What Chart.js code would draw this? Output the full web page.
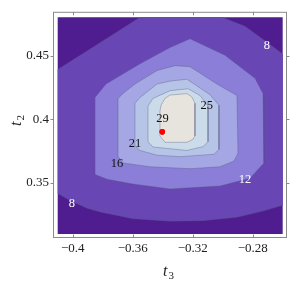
<!DOCTYPE html>
<html>
<head>
<meta charset="utf-8">
<script src="https://cdn.jsdelivr.net/npm/chart.js@4.4.0/dist/chart.umd.min.js"></script>
<style>
html,body{margin:0;padding:0;background:#fff;}
#wrap{width:291px;height:283px;position:relative;}
</style>
</head>
<body>
<div id="wrap"><canvas id="c" width="291" height="283"></canvas></div>
<script>
// ---- data ----
const xTicks = [-0.4, -0.36, -0.32, -0.28];
const yTicks = [0.35, 0.4, 0.45];
const domainX = [-0.41, -0.26];
const domainY = [0.31, 0.48];
const levels = [8, 12, 16, 21, 25, 29];

// contour boundaries (region >= level), [t3, t2]
const c8 = [[-0.41,0.4390],[-0.3551,0.48],[-0.3005,0.48],[-0.2851,0.4730],[-0.2718,0.4616],[-0.26,0.4511],
  [-0.26,0.3325],[-0.2731,0.3279],[-0.2905,0.3230],[-0.3131,0.3204],[-0.3351,0.3200],[-0.3598,0.3219],
  [-0.3818,0.3272],[-0.3905,0.3302],[-0.4018,0.3363],[-0.41,0.3418]];
const c12 = [[-0.3851,0.4171],[-0.3778,0.4276],[-0.3551,0.4435],[-0.3351,0.4563],[-0.3218,0.4631],[-0.2985,0.4503],
  [-0.2785,0.4322],[-0.2731,0.4201],[-0.2725,0.3657],[-0.2818,0.3536],[-0.3018,0.3476],[-0.3351,0.3453],
  [-0.3598,0.3491],[-0.3771,0.3529],[-0.3851,0.3566]];
const c16 = [[-0.3698,0.4163],[-0.3665,0.4201],[-0.3585,0.4276],[-0.3438,0.4382],[-0.3318,0.4420],[-0.3218,0.4412],
  [-0.3038,0.4276],[-0.2905,0.4186],[-0.2898,0.3733],[-0.2925,0.3672],[-0.3018,0.3627],[-0.3218,0.3612],
  [-0.3485,0.3627],[-0.3665,0.3657],[-0.3698,0.3710]];
const c21 = [[-0.3585,0.4125],[-0.3551,0.4171],[-0.3438,0.4276],[-0.3351,0.4299],[-0.3238,0.4314],[-0.3171,0.4261],
  [-0.3085,0.4193],[-0.3025,0.4110],[-0.3025,0.3763],[-0.3058,0.3725],[-0.3285,0.3706],[-0.3438,0.3718],
  [-0.3551,0.3755],[-0.3585,0.3793]];
const c25 = [[-0.3498,0.4103],[-0.3465,0.4163],[-0.3351,0.4224],[-0.3231,0.4239],[-0.3151,0.4186],[-0.3098,0.4103],
  [-0.3098,0.3823],[-0.3131,0.3785],[-0.3238,0.3755],[-0.3465,0.3782],[-0.3498,0.3823]];
const c29 = [[-0.3411,0.4110],[-0.3385,0.4163],[-0.3351,0.4190],[-0.3238,0.4201],[-0.3205,0.4174],[-0.3185,0.4125],
  [-0.3185,0.3869],[-0.3198,0.3842],[-0.3238,0.3819],[-0.3385,0.3819],[-0.3418,0.3869],[-0.3418,0.4065]];
const bestPoint = [-0.3403, 0.3901];

// contour labels
const labelTexts = ['8', '8', '12', '16', '21', '25', '29'];
const labelX = [-0.2705, -0.4005, -0.2851, -0.3704, -0.3585, -0.3107, -0.3401];
const labelY = [0.4579, 0.3340, 0.3532, 0.3653, 0.3808, 0.4110, 0.4008];
const labelColors = ['#ffffff', '#ffffff', '#ffffff', '#111', '#111', '#111', '#111'];

const bandColors = ['#4f1d8f', '#6846b4', '#8a7ed8', '#a4a7e3', '#b6c4e8', '#cbdbea', '#e6e4dc'];

// ---- build ----
function toPts(arr) {
  const p = arr.map(a => ({x: a[0], y: a[1]}));
  p.push({x: arr[0][0], y: arr[0][1]});
  return p;
}
function sameEdge(a, b) {
  const e = 1e-6;
  return (Math.abs(a.x - b.x) < e && (Math.abs(a.x - domainX[0]) < e || Math.abs(a.x - domainX[1]) < e)) ||
         (Math.abs(a.y - b.y) < e && (Math.abs(a.y - domainY[0]) < e || Math.abs(a.y - domainY[1]) < e));
}
function polyDataset(arr, color, withLine) {
  const pts = toPts(arr);
  return {
    data: pts,
    showLine: true,
    fill: false,
    polyFill: color,
    backgroundColor: color,
    borderColor: withLine ? 'rgba(85,85,120,0.45)' : 'rgba(0,0,0,0)',
    borderWidth: withLine ? 0.8 : 0,
    pointRadius: 0,
    tension: 0,
    segment: {
      borderColor: ctx => {
        const a = pts[ctx.p0DataIndex], b = pts[ctx.p1DataIndex];
        return (a && b && sameEdge(a, b)) ? 'rgba(0,0,0,0)' : undefined;
      }
    }
  };
}
const domainPoly = [[domainX[0], domainY[0]], [domainX[1], domainY[0]], [domainX[1], domainY[1]], [domainX[0], domainY[1]]];

const datasets = [
  {data: [{x: bestPoint[0], y: bestPoint[1]}], pointRadius: 2.8, pointBackgroundColor: '#ff0000', pointBorderWidth: 0, showLine: false},
  polyDataset(c29, bandColors[6], true),
  polyDataset(c25, bandColors[5], true),
  polyDataset(c21, bandColors[4], true),
  polyDataset(c16, bandColors[3], true),
  polyDataset(c12, bandColors[2], true),
  polyDataset(c8, bandColors[1], true),
  polyDataset(domainPoly, bandColors[0], false)
];

const SERIF = '"Liberation Serif", "DejaVu Serif", serif';
const fmt = v => (v < 0 ? '\u2212' : '') + String(Math.abs(Math.round(v * 1000) / 1000));

// fills each polygon dataset from the points placed by the library's scales
const polyFill = {
  id: 'polyFill',
  beforeDatasetDraw(chart, args) {
    const ds = chart.data.datasets[args.index];
    if (!ds.polyFill) return;
    const ctx = chart.ctx;
    const pts = args.meta.data;
    ctx.save();
    ctx.beginPath();
    pts.forEach((p, i) => i ? ctx.lineTo(p.x, p.y) : ctx.moveTo(p.x, p.y));
    ctx.closePath();
    ctx.fillStyle = ds.polyFill;
    ctx.fill();
    ctx.restore();
  }
};

const decor = {
  id: 'decor',
  afterDatasetsDraw(chart) {
    const {ctx, chartArea: a, scales: {x, y}} = chart;
    ctx.save();
    ctx.font = '12.5px ' + SERIF;
    ctx.textAlign = 'center';
    ctx.textBaseline = 'middle';
    for (let i = 0; i < labelTexts.length; i++) {
      ctx.fillStyle = labelColors[i];
      ctx.fillText(labelTexts[i], x.getPixelForValue(labelX[i]), y.getPixelForValue(labelY[i]) + 0.5);
    }
    ctx.fillStyle = '#ff0000';
    ctx.beginPath();
    ctx.arc(x.getPixelForValue(bestPoint[0]), y.getPixelForValue(bestPoint[1]), 2.8, 0, Math.PI * 2);
    ctx.fill();
    ctx.strokeStyle = '#8a8a8a';
    ctx.lineWidth = 1;
    ctx.strokeRect(a.left + 0.5, a.top + 0.5, a.right - a.left - 1, a.bottom - a.top - 1);
    ctx.beginPath();
    xTicks.forEach(v => {
      const px = Math.round(x.getPixelForValue(v)) + 0.5;
      ctx.moveTo(px, a.bottom); ctx.lineTo(px, a.bottom - 3.5);
      ctx.moveTo(px, a.top); ctx.lineTo(px, a.top + 3.5);
    });
    yTicks.forEach(v => {
      const py = Math.round(y.getPixelForValue(v)) + 0.5;
      ctx.moveTo(a.left + 1, py); ctx.lineTo(a.left - 2.5, py);
      ctx.moveTo(a.right - 1, py); ctx.lineTo(a.right + 2.5, py);
    });
    ctx.stroke();
    ctx.fillStyle = '#222';
    ctx.textAlign = 'left';
    ctx.textBaseline = 'alphabetic';
    ctx.font = 'italic 16px ' + SERIF;
    ctx.fillText('t', 163, 276);
    ctx.font = '11px ' + SERIF;
    ctx.fillText('3', 168.5, 279);
    ctx.translate(21, 126);
    ctx.rotate(-Math.PI / 2);
    ctx.font = 'italic 16px ' + SERIF;
    ctx.fillText('t', 0, 0);
    ctx.font = '11px ' + SERIF;
    ctx.fillText('2', 5.5, 3);
    ctx.restore();
  }
};

new Chart(document.getElementById('c'), {
  type: 'scatter',
  data: {datasets},
  options: {
    responsive: false,
    animation: false,
    devicePixelRatio: 1,
    layout: {padding: {top: 3, right: 4, left: 0, bottom: 0}},
    plugins: {legend: {display: false}, tooltip: {enabled: false}},
    scales: {
      x: {
        type: 'linear', min: -0.41313, max: -0.25713,
        grid: {display: false, drawTicks: false}, border: {display: false},
        afterBuildTicks: s => { s.ticks = xTicks.map(v => ({value: v})); },
        afterFit: s => { s.height = 45; },
        ticks: {callback: v => fmt(v), font: {family: SERIF, size: 13}, color: '#222', padding: 3, maxRotation: 0, autoSkip: false}
      },
      y: {
        type: 'linear', min: 0.3068, max: 0.4843,
        grid: {display: false, drawTicks: false}, border: {display: false},
        afterBuildTicks: s => { s.ticks = yTicks.map(v => ({value: v})); },
        afterFit: s => { s.width = 53; },
        ticks: {callback: v => fmt(v), font: {family: SERIF, size: 13}, color: '#222', padding: 4, autoSkip: false}
      }
    }
  },
  plugins: [polyFill, decor]
});
</script>
</body>
</html>
